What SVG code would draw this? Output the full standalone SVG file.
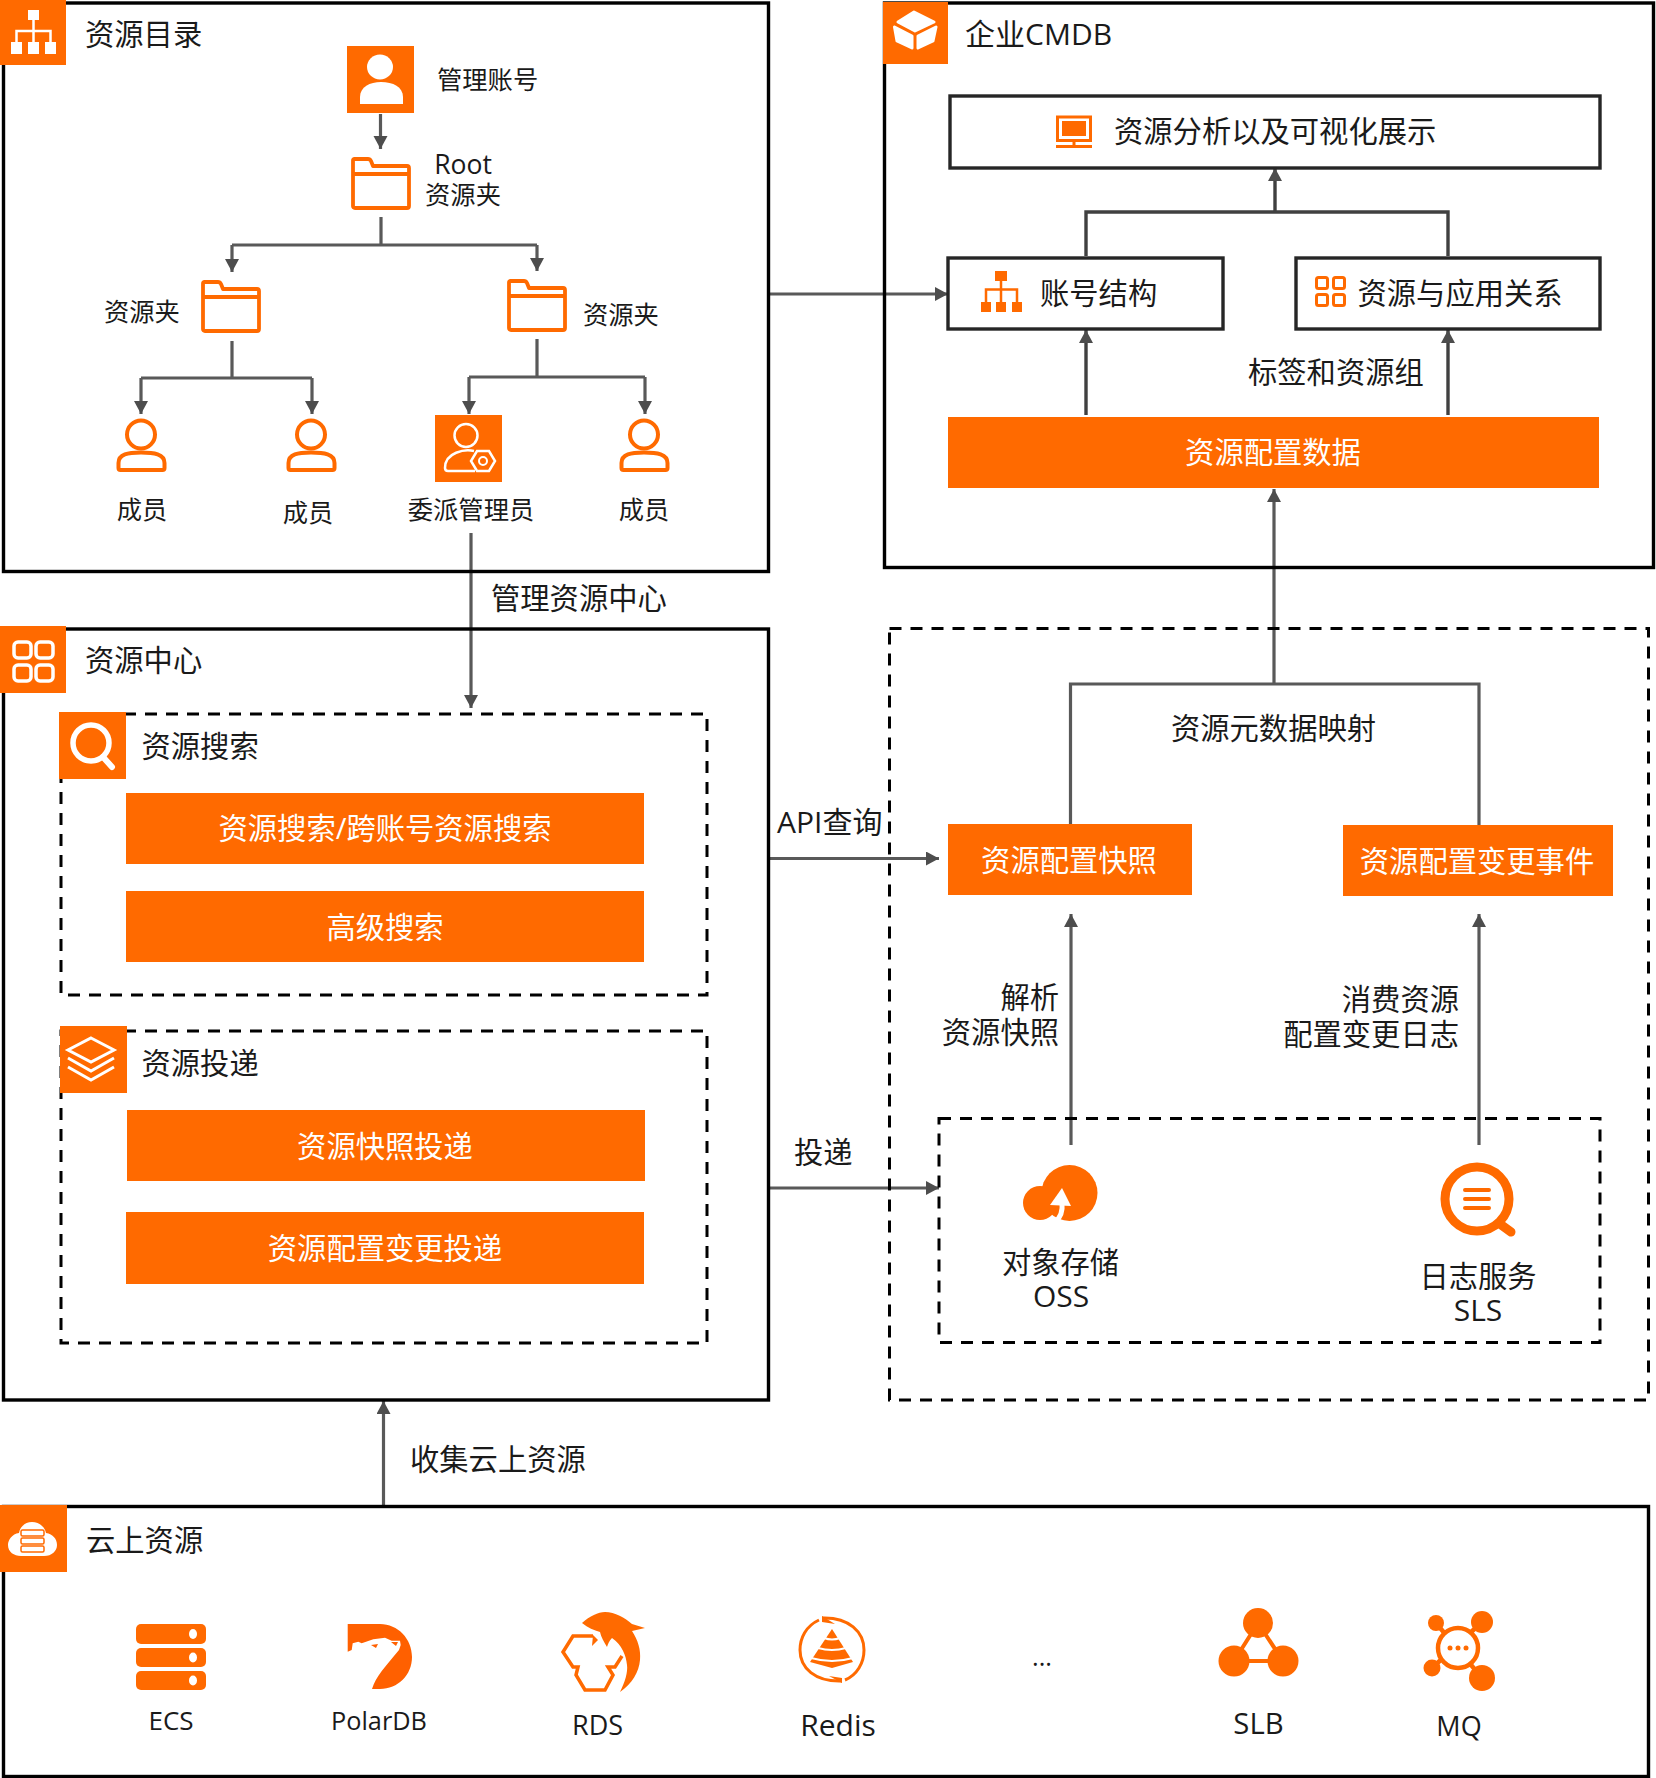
<svg xmlns="http://www.w3.org/2000/svg" xmlns:xlink="http://www.w3.org/1999/xlink" width="1656" height="1778" viewBox="0 0 1656 1778">
<style>
text{font-family:"Open Sans","Noto Sans CJK SC",sans-serif;fill:#1a1a1a;dominant-baseline:central}
.t29{font-size:29.300px}.t25{font-size:25.300px}.m{text-anchor:middle}.e{text-anchor:end}
.w{fill:#fff}
.box{fill:none;stroke:#000;stroke-width:3.400}
.ibox{fill:none;stroke:#262626;stroke-width:3.400}
.dash{fill:none;stroke:#000;stroke-width:3;stroke-dasharray:12 9}
.o{fill:#FF6A00}
.ws{fill:none;stroke:#fff}
.os{fill:none;stroke:#FF6A00}
.c{fill:none;stroke:#595959;stroke-width:3.200}
.c2{fill:none;stroke:#404040;stroke-width:3.400}
</style>
<defs>
<marker id="a" markerUnits="userSpaceOnUse" markerWidth="15" markerHeight="15" refX="13" refY="7" orient="auto"><path d="M0 0L13 7L0 14z" fill="#4d4d4d"/></marker>
<symbol id="folder" overflow="visible"><path d="M2 8V3.500Q2 2 3.500 2H17Q19 2 20 4L22 9H56Q58 9 58 11V49Q58 51 56 51H4Q2 51 2 49V8ZM2 17H58" fill="none" stroke="#FF6A00" stroke-width="3.800" stroke-linejoin="round"/></symbol>
<symbol id="person" overflow="visible"><ellipse cx="24" cy="14.500" rx="14" ry="14" fill="none" stroke="#FF6A00" stroke-width="4"/><path d="M1.500 43C1.500 34 11 32.500 24 32.500C37 32.500 47.500 34 47.500 43V48Q47.500 50 45.500 50H3.500Q1.500 50 1.500 48Z" fill="none" stroke="#FF6A00" stroke-width="4" stroke-linejoin="round"/></symbol>
</defs>

<g id="connectors">
<path class="c" d="M380.500 114V149" marker-end="url(#a)"/>
<path class="c" d="M381 217V245M232 245H537M232 245V272" marker-end="url(#a)"/>
<path class="c" d="M537 245V271" marker-end="url(#a)"/>
<path class="c" d="M232 341V378M141 378H312M141 378V414" marker-end="url(#a)"/>
<path class="c" d="M312 378V414" marker-end="url(#a)"/>
<path class="c" d="M537 339V377M469 377H645M469 377V414" marker-end="url(#a)"/>
<path class="c" d="M645 377V414" marker-end="url(#a)"/>
<path class="c" d="M471 533V708" marker-end="url(#a)"/>
<path class="c" d="M768 294H948" marker-end="url(#a)"/>
<path class="c2" d="M1086 256V212H1448V256M1275 212V168" marker-end="url(#a)"/>
<path class="c2" d="M1086 415V330" marker-end="url(#a)"/>
<path class="c2" d="M1448 415V330" marker-end="url(#a)"/>
<path class="c" d="M1070.500 824V684H1479V825M1274 684V489" marker-end="url(#a)"/>
<path class="c" d="M768 858.500H939" marker-end="url(#a)"/>
<path class="c" d="M768 1188H939" marker-end="url(#a)"/>
<path class="c" d="M1071 1145V914" marker-end="url(#a)"/>
<path class="c" d="M1479 1145V914" marker-end="url(#a)"/>
<path class="c" d="M383.500 1506V1401" marker-end="url(#a)"/>
</g>

<g id="catalog">
<rect class="box" x="3.500" y="3" width="765" height="568.500"/>
<rect class="o" x="0" y="0" width="66" height="65"/>
<rect x="28" y="10" width="11" height="10" fill="#fff"/><rect x="11" y="42" width="11" height="12" fill="#fff"/><rect x="28" y="42" width="11" height="12" fill="#fff"/><rect x="45" y="42" width="11" height="12" fill="#fff"/>
<path class="ws" stroke-width="2.500" d="M33.500 20V42M16.500 42V31H50.500V42"/>
<text class="t29" x="85" y="34">资源目录</text>
</g>
<g id="admin">
<rect class="o" x="347" y="46" width="67" height="67"/>
<ellipse cx="380" cy="67" rx="13" ry="12.500" fill="#fff"/>
<path d="M360 104V97C360 87 370 82 381 82C393 82 403 87 403 97V104Z" fill="#fff"/>
<text class="t25" x="437" y="79">管理账号</text>
</g>
<g id="root-folder">
<use href="#folder" x="351" y="157"/>
<text style="font-size:26.500px" class="m" x="463" y="164">Root</text>
<text class="t25 m" x="463" y="194">资源夹</text>
</g>
<g id="folder-left">
<use href="#folder" x="201" y="280"/>
<text class="t25" x="104" y="311">资源夹</text>
</g>
<g id="folder-right">
<use href="#folder" x="507" y="279"/>
<text class="t25" x="583" y="314">资源夹</text>
</g>
<g id="member-1"><use href="#person" x="117" y="420"/><text class="t25 m" x="142" y="509">成员</text></g>
<g id="member-2"><use href="#person" x="287" y="420"/><text class="t25 m" x="308" y="512">成员</text></g>
<g id="delegate">
<rect class="o" x="435" y="415" width="67" height="67"/>
<ellipse cx="466" cy="435.500" rx="11.500" ry="11.500" class="ws" stroke-width="2.500"/>
<path class="ws" stroke-width="2.500" d="M474 451C465 449 445 452 445 468Q445 471 448 471H475"/>
<path class="ws" stroke-width="2.500" d="M477 451L489 451L495 461L489 471L477 471L471 461Z"/>
<circle cx="483" cy="461" r="4" class="ws" stroke-width="2"/>
<text class="t25 m" x="471" y="509">委派管理员</text>
</g>
<g id="member-3"><use href="#person" x="620" y="420"/><text class="t25 m" x="644" y="509">成员</text></g>

<text class="t29" x="491" y="598">管理资源中心</text>

<g id="center">
<rect class="box" x="3.500" y="629" width="765" height="771"/>
<rect class="o" x="0" y="626" width="66" height="67"/>
<g class="ws" stroke-width="3.500"><rect x="14" y="642" width="17" height="16" rx="4"/><rect x="36" y="642" width="17" height="16" rx="4"/><rect x="14" y="665" width="17" height="16" rx="4"/><rect x="36" y="665" width="17" height="16" rx="4"/></g>
<text class="t29" x="85" y="660">资源中心</text>
</g>
<g id="search-group">
<rect class="dash" x="61" y="714" width="646" height="281"/>
<rect class="o" x="59" y="712" width="67" height="67"/>
<circle cx="91" cy="743" r="18" class="ws" stroke-width="5.500"/>
<path class="ws" stroke-width="6" stroke-linecap="round" d="M103 757L112 767"/>
<text class="t29" x="141.500" y="746">资源搜索</text>
</g>
<g id="search-cross"><rect class="o" x="126" y="793" width="518" height="71"/><text class="t29 m w" x="385" y="828">资源搜索/跨账号资源搜索</text></g>
<g id="search-adv"><rect class="o" x="126" y="891" width="518" height="71"/><text class="t29 m w" x="385" y="927">高级搜索</text></g>
<g id="delivery-group">
<rect class="dash" x="61" y="1031" width="646" height="312"/>
<rect class="o" x="60" y="1026" width="67" height="67"/>
<path class="ws" stroke-width="3" d="M91 1038L114 1050L91 1062L68 1050ZM68 1058L91 1071L114 1058M68 1067L91 1080L114 1067"/>
<text class="t29" x="141.500" y="1063">资源投递</text>
</g>
<g id="delivery-snap"><rect class="o" x="127" y="1110" width="518" height="71"/><text class="t29 m w" x="385" y="1146">资源快照投递</text></g>
<g id="delivery-change"><rect class="o" x="126" y="1212" width="518" height="72"/><text class="t29 m w" x="385" y="1248">资源配置变更投递</text></g>

<g id="cmdb">
<rect class="box" x="884.500" y="3" width="769" height="564.500"/>
<rect class="o" x="883" y="2" width="65" height="62"/>
<g fill="#fff" stroke="#fff" stroke-width="3" stroke-linejoin="round"><path d="M914 12L934 22L915 31L898 22Z"/><path d="M894.500 27L912 36V48L897 41Z"/><path d="M918 36L936 27L933 41L918 48Z"/></g>
<text style="font-size:30px" x="965" y="33">企业CMDB</text>
</g>
<g id="cmdb-view">
<rect class="ibox" x="950" y="96" width="650" height="72"/>
<rect class="o" x="1062" y="121" width="24" height="15"/>
<rect class="os" stroke-width="3" x="1057.500" y="117" width="33" height="23.500"/>
<path class="os" stroke-width="3" d="M1074 141V146M1056 146.500H1092"/>
<text class="t29" x="1114" y="131">资源分析以及可视化展示</text>
</g>
<g id="cmdb-account">
<rect class="ibox" x="948" y="258" width="275" height="71"/>
<path class="o" d="M995 271H1007V281H995ZM981 302H991V312H981ZM996 302H1006V312H996ZM1012 302H1022V312H1012Z"/>
<path class="os" stroke-width="2.500" d="M1001 281V302M986 302V289.500H1017V302"/>
<text class="t29" x="1040" y="292.500">账号结构</text>
</g>
<g id="cmdb-app">
<rect class="ibox" x="1296" y="258" width="304" height="71"/>
<g class="os" stroke-width="3"><rect x="1316.500" y="277.500" width="11" height="11" rx="2"/><rect x="1333.500" y="277.500" width="11" height="11" rx="2"/><rect x="1316.500" y="294.500" width="11" height="11" rx="2"/><rect x="1333.500" y="294.500" width="11" height="11" rx="2"/></g>
<text class="t29" x="1357.500" y="292.500">资源与应用关系</text>
</g>
<text class="t29" x="1248" y="372">标签和资源组</text>
<g id="cmdb-data"><rect class="o" x="948" y="417" width="651" height="71"/><text class="t29 m w" x="1273" y="452">资源配置数据</text></g>

<g id="pipeline"><rect class="dash" x="889.500" y="628.500" width="759" height="771.500"/></g>
<text style="font-size:30px" x="777" y="821">API查询</text>
<text class="t29" x="794" y="1152">投递</text>
<text class="t29 m" x="1273.500" y="728">资源元数据映射</text>
<g id="snapshot"><rect class="o" x="948" y="824" width="244" height="71"/><text class="t29 m w" x="1069" y="860">资源配置快照</text></g>
<g id="change"><rect class="o" x="1343" y="825" width="270" height="71"/><text class="t29 m w" x="1477" y="861">资源配置变更事件</text></g>
<text class="t29 e" x="1059" y="997">解析</text>
<text class="t29 e" x="1059" y="1032">资源快照</text>
<text class="t29 e" x="1459" y="999">消费资源</text>
<text class="t29 e" x="1459" y="1034">配置变更日志</text>

<g id="storage"><rect class="dash" x="939" y="1118.500" width="661" height="224"/></g>
<g id="oss">
<circle class="o" cx="1069.500" cy="1193" r="28"/><circle class="o" cx="1040" cy="1203" r="17"/>
<path class="w" d="M1062 1188L1050 1205L1071 1206Z"/>
<path class="ws" stroke-width="5" d="M1062 1203C1063 1212 1060 1218 1055 1222"/>
<text class="t29 m" x="1060.500" y="1262">对象存储</text>
<text style="font-size:30px" class="m" x="1061" y="1295">OSS</text>
</g>
<g id="sls">
<ellipse class="os" cx="1477" cy="1199" rx="32" ry="32" stroke-width="9"/>
<path class="os" stroke-width="9" stroke-linecap="round" d="M1500 1224L1511 1232"/>
<path class="os" stroke-width="4" stroke-linecap="round" d="M1465 1190H1489M1465 1199H1489M1465 1208H1489"/>
<text class="t29 m" x="1478" y="1276">日志服务</text>
<text style="font-size:30px" class="m" x="1478" y="1309">SLS</text>
</g>

<g id="cloud">
<rect class="box" x="3.500" y="1506.500" width="1645" height="270"/>
<rect class="o" x="0" y="1505" width="67" height="67"/>
<path fill="#fff" d="M32 1522C25 1522 20 1527 19 1533C12 1534 8 1540 8 1545C8 1552 14 1556 21 1556H44C52 1556 57 1551 57 1545C57 1539 53 1534 46 1533C45 1527 39 1522 32 1522Z"/>
<g class="os" stroke-width="1.500"><rect x="21" y="1530" width="23" height="6" rx="1.500"/><rect x="21" y="1538" width="23" height="6" rx="1.500"/><rect x="21" y="1546" width="23" height="6" rx="1.500"/></g>
<text class="t29" x="86" y="1540">云上资源</text>
</g>
<text class="t29" x="410" y="1459">收集云上资源</text>

<g id="ecs">
<rect class="o" x="136" y="1624" width="70" height="20" rx="5"/><rect class="o" x="136" y="1648" width="70" height="19" rx="5"/><rect class="o" x="136" y="1671" width="70" height="19" rx="5"/>
<ellipse class="w" cx="193" cy="1634" rx="4" ry="5"/><ellipse class="w" cx="193" cy="1657.500" rx="4" ry="5"/><ellipse class="w" cx="193" cy="1680.500" rx="4" ry="5"/>
<text style="font-size:26px" class="m" x="171" y="1720">ECS</text>
</g>
<g id="polardb">
<path fill="#FF6000" d="M347.700 1624H380C398 1624 412 1639 412 1657C412 1675 398 1689 380 1689H372C376 1676 385 1667 399 1650L400.700 1645L400 1640.700L391.700 1640.700L385 1637.700L373.300 1639.300L361.700 1643.300L358.300 1641.700L352.700 1643.300L351.700 1650L347.700 1651.700Z"/>
<path fill="#FF6000" d="M371 1645L378 1644L376 1648ZM391 1642L398 1642L396 1646Z"/>
<text class="t25 m" x="379" y="1720">PolarDB</text>
</g>
<g id="rds">
<path class="o" d="M582 1623C590 1616 598 1612 605 1612C615 1612 625 1618 632 1624L645 1628L632 1631C638 1640 641 1650 640 1660C639 1672 632 1684 620 1692C625 1682 628 1672 627 1665C626 1655 622 1645 612 1638C609 1641 608 1644 607 1647C604 1642 601 1637 600 1632C594 1630 588 1628 582 1623Z"/>
<path class="os" stroke-width="3.500" d="M593 1636H573L563 1652L573 1667H578L576 1675L585 1690H605L613 1675L608 1667H615L622 1656"/>
<path class="o" d="M593 1635L598 1640L592 1646Z"/>
<text style="font-size:27px" class="m" x="597.500" y="1724">RDS</text>
</g>
<g id="redis">
<path class="os" stroke-width="3" d="M819 1620C806 1626 800 1638 800 1650C800 1668 815 1682 842 1681"/>
<path class="os" stroke-width="3" d="M845 1680C857 1675 864 1663 864 1650C864 1632 849 1617 822 1618"/>
<path class="o" d="M822 1616L835 1624L822 1622ZM842 1683L829 1676L842 1678Z"/>
<path class="o" d="M832 1629L853 1662L832 1668L810 1662Z"/>
<path class="ws" stroke-width="2" d="M824 1638Q832 1641 840 1638M818 1648Q832 1652 846 1648M811 1658Q832 1664 853 1658"/>
<text style="font-size:30px" class="m" x="838" y="1724">Redis</text>
</g>
<text class="t25 m" x="1042" y="1656">...</text>
<g id="slb">
<path class="os" stroke-width="4" d="M1258 1623L1234 1661H1283Z"/>
<circle class="o" cx="1258" cy="1623" r="15"/><circle class="o" cx="1234" cy="1661" r="15.500"/><circle class="o" cx="1283" cy="1661" r="15.500"/>
<text class="t29 m" x="1258.500" y="1723">SLB</text>
</g>
<g id="mq">
<path class="os" stroke-width="4.500" d="M1436 1623L1482 1678M1482 1622L1432 1668"/>
<circle cx="1458" cy="1648" r="20" fill="#fff" stroke="#FF6A00" stroke-width="4.500"/>
<circle class="o" cx="1436" cy="1623" r="8"/><circle class="o" cx="1482" cy="1622" r="11"/><circle class="o" cx="1432" cy="1668" r="8.500"/><circle class="o" cx="1482" cy="1678" r="13"/>
<circle class="o" cx="1450" cy="1648" r="2.500"/><circle class="o" cx="1458" cy="1648" r="2.500"/><circle class="o" cx="1466" cy="1648" r="2.500"/>
<text style="font-size:27px" class="m" x="1459" y="1725">MQ</text>
</g>
</svg>
